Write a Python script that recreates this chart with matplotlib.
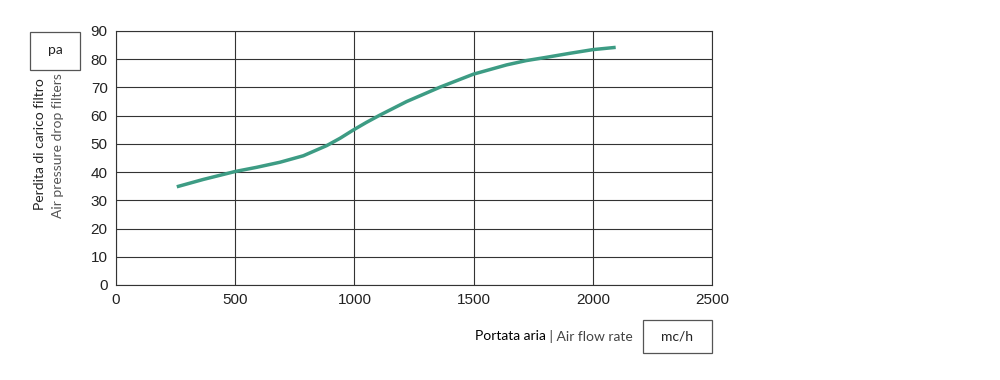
import matplotlib
matplotlib.use("Agg")
import matplotlib.pyplot as plt
from matplotlib.patches import Rectangle

flow = [255, 366, 499, 590, 688, 786, 884, 940, 995, 1050, 1107, 1219, 1359, 1499, 1639,
        1720, 1800, 1904, 2000, 2096]
pressure = [34.8, 37.4, 40.2, 41.7, 43.5, 45.8, 49.4, 52.0, 54.9, 57.6, 60.2, 65.0, 70.1, 74.7, 78.0,
            79.5, 80.6, 82.1, 83.4, 84.2]
x_ticks = [0, 500, 1000, 1500, 2000, 2500]
y_ticks = [0, 10, 20, 30, 40, 50, 60, 70, 80, 90]

fig = plt.figure(figsize=(10, 3.8), dpi=100)
ax = fig.add_axes([0.116, 1 - 285 / 380, 0.596, 254 / 380])

ax.plot(flow, pressure, color="#3d9c84", lw=2.5, solid_capstyle="butt", solid_joinstyle="round")
ax.set_xlim(0, 2500)
ax.set_ylim(0, 90)
ax.set_xticks(x_ticks)
ax.set_yticks(y_ticks)
ax.grid(True, color="#333333", lw=0.8)
ax.set_axisbelow(True)
for s in ax.spines.values():
    s.set_color("#333333")
    s.set_linewidth(0.8)
ax.tick_params(length=0, pad=6, labelsize=11, colors="#222222")
for lab in ax.get_xticklabels() + ax.get_yticklabels():
    lab.set_family("Liberation Sans")

tf = "Lato"
fs = 10
# y unit box
fig.patches.append(Rectangle((30 / 1000, 1 - 70 / 380), 50 / 1000, 38 / 380,
                             transform=fig.transFigure, fill=False, ec="#555555", lw=0.9))
fig.text(55 / 1000, 1 - 50 / 380, "pa", ha="center", va="center", fontsize=fs, family=tf, color="#222222")
fig.text(40 / 1000, 1 - 144 / 380, "Perdita di carico filtro", rotation=90, ha="center", va="center",
         fontsize=fs, family=tf, color="#222222")
fig.text(58 / 1000, 1 - 146 / 380, "Air pressure drop filters", rotation=90, ha="center", va="center",
         fontsize=fs, family=tf, color="#555555")

# x unit box
fig.patches.append(Rectangle((643 / 1000, 1 - 353 / 380), 69 / 1000, 33 / 380,
                             transform=fig.transFigure, fill=False, ec="#555555", lw=0.9))
fig.text(677.5 / 1000, 1 - 336.5 / 380, "mc/h", ha="center", va="center", fontsize=fs, family=tf, color="#222222")
t = fig.text(633 / 1000, 1 - 336.5 / 380, " | Air flow rate", ha="right", va="center",
             fontsize=fs, family=tf, color="#444444")
fig.canvas.draw()
bb = t.get_window_extent()
fig.text(bb.x0 / fig.bbox.width, 1 - 336.5 / 380, "Portata aria", ha="right", va="center",
         fontsize=fs, family=tf, color="#000000")

fig.savefig("out.png", dpi=100)
